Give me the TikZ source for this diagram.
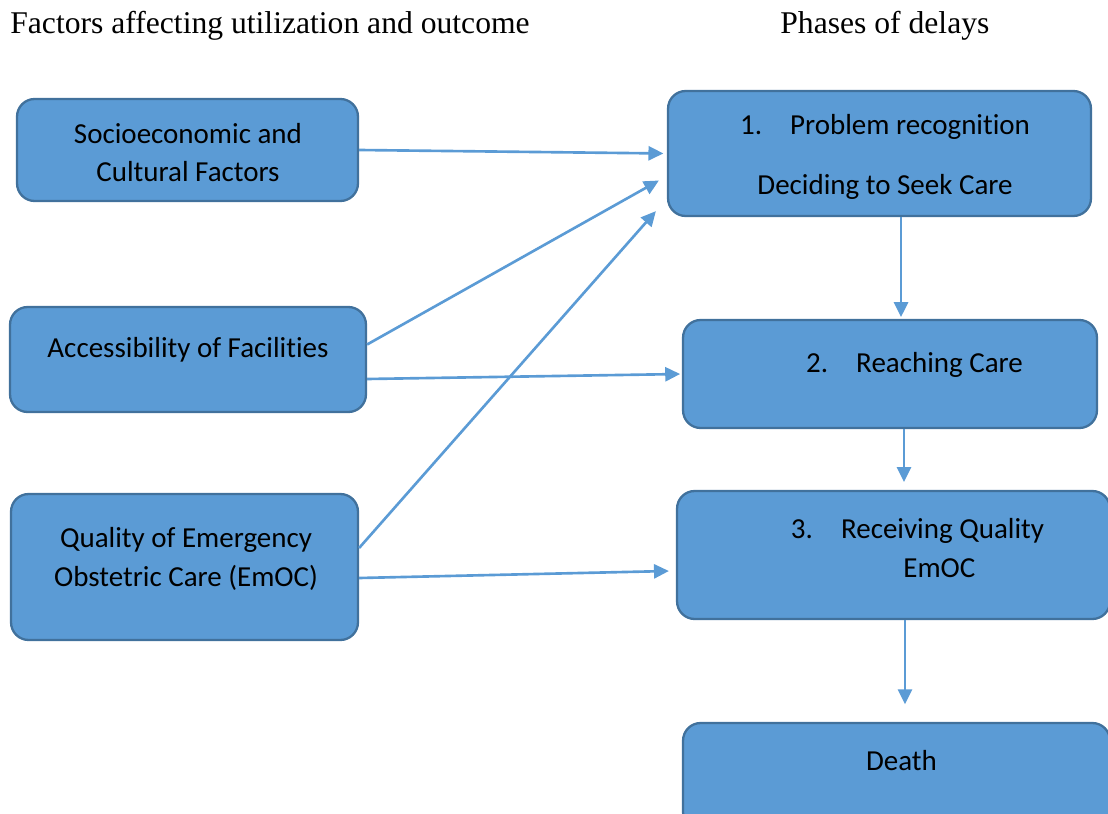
\documentclass[tikz,border=0pt]{standalone}
\usepackage{fontspec}
\setmainfont{Liberation Serif}
\newfontfamily\boxfont[Ligatures={NoCommon,NoContextual}]{Carlito}
\usetikzlibrary{arrows.meta,calc}
\definecolor{boxblue}{HTML}{5B9BD5}
\definecolor{boxedge}{HTML}{41719C}
\tikzset{
  delaybox/.style={draw=boxedge, line width=1.3pt, fill=boxblue, rounded corners=10pt},
  boxtext/.style={font=\boxfont\fontsize{16.5}{22}\selectfont, align=center, inner sep=0pt},
  link/.style={draw=boxblue, line width=1.5pt, -{Triangle[length=8.5pt,width=8pt]}},
  heading/.style={font=\fontsize{18}{22}\selectfont, anchor=base west, inner sep=0pt}
}
\begin{document}
\begin{tikzpicture}[x=0.02cm,y=-0.02cm]
\useasboundingbox (0,0) rectangle (1108,814);
\clip (0,0) rectangle (1108,814);

\node[heading] (factors) at (10,34) {Factors affecting utilization and outcome};
\node[heading] (phases) at (780,34) {Phases of delays};

% left column
\node[delaybox, minimum width=6.82cm, minimum height=2.04cm] (socio) at (187.5,150) {};
\node[boxtext] (sociotext) at (188,152.5) {Socioeconomic and\\Cultural Factors};
\node[delaybox, minimum width=7.12cm, minimum height=2.10cm] (access) at (188,359.5) {};
\node[boxtext] (accesstext) at (188,350) {Accessibility of Facilities};
\node[delaybox, minimum width=6.94cm, minimum height=2.92cm] (quality) at (184.5,567) {};
\node[boxtext] (qualitytext) at (186,559) {Quality of Emergency\\Obstetric Care (EmOC)};

% right column
\node[delaybox, minimum width=8.46cm, minimum height=2.50cm] (p1) at (879.5,153.5) {};
\node[boxtext] (p1text) at (885,157) {1.\hspace{16pt}Problem recognition\\[12pt]Deciding to Seek Care};
\node[delaybox, minimum width=8.28cm, minimum height=2.16cm] (p2) at (890,374) {};
\node[boxtext] (p2text) at (914.5,365) {2.\hspace{16pt}Reaching Care};
\node[delaybox, minimum width=8.66cm, minimum height=2.56cm] (p3) at (893.5,555) {};
\node[boxtext, align=left] (p3text) at (917.5,548) {3.\hspace{16pt}Receiving Quality\\\hspace*{64pt}EmOC};
\node[delaybox, minimum width=8.54cm, minimum height=2.14cm] (death) at (896.5,776.5) {};
\node[boxtext] (deathtext) at (901.5,761) {Death};

\draw[link, shorten >=2pt] (socio.east) -- (p1.west);
\draw[link] ($(access.east)+(0,-15)$) -- ($(p1.west)+(-8,27)$);
\draw[link, shorten >=1pt] ($(access.east)+(0,19.5)$) -- (p2.west);
\draw[link] ($(quality.east)+(0,-19)$) -- ($(p1.south west)+(-11,-6)$);
\draw[link] ($(quality.east)+(0,11)$) -- ($(p3.west)+(-7,16)$);

\draw[link, shorten >=1pt] (p1.south -| 901,0) -- (p2.north -| 901,0);
\draw[link, shorten >=4.5pt] (p2.south -| 904,0) -- (p3.north -| 904,0);
\draw[link, shorten >=10pt] (p3.south -| 905,0) -- (death.north -| 905,0);

\end{tikzpicture}
\end{document}
